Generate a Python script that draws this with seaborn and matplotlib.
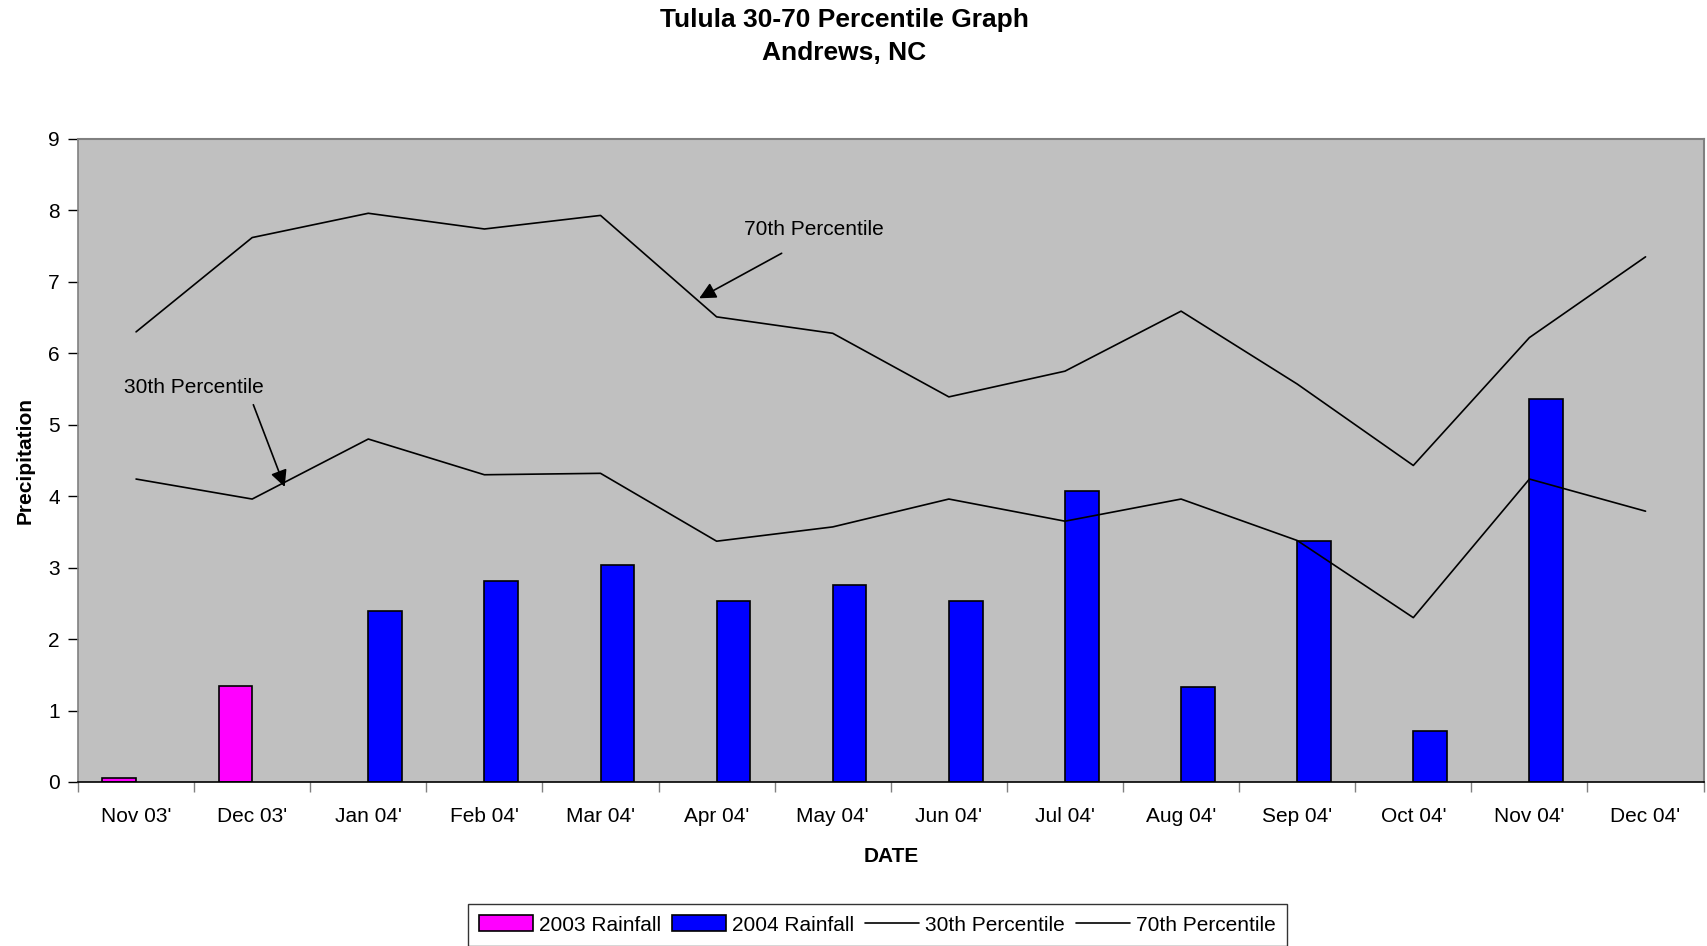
import numpy as np
import pandas as pd
import matplotlib
matplotlib.use("Agg")
import matplotlib.pyplot as plt
import seaborn as sns

# Monthly categories
months = ["Nov 03'", "Dec 03'", "Jan 04'", "Feb 04'", "Mar 04'", "Apr 04'", "May 04'",
          "Jun 04'", "Jul 04'", "Aug 04'", "Sep 04'", "Oct 04'", "Nov 04'", "Dec 04'"]

# Observed rainfall (inches)
rain_2003_months = ["Nov 03'", "Dec 03'"]
rain_2003 = [0.05, 1.35]
rain_2004_months = ["Jan 04'", "Feb 04'", "Mar 04'", "Apr 04'", "May 04'", "Jun 04'",
                    "Jul 04'", "Aug 04'", "Sep 04'", "Oct 04'", "Nov 04'"]
rain_2004 = [2.39, 2.81, 3.04, 2.53, 2.76, 2.53, 4.07, 1.33, 3.37, 0.71, 5.36]

# Percentile envelopes
pct30 = [4.24, 3.96, 4.80, 4.30, 4.32, 3.37, 3.57, 3.96, 3.65, 3.96, 3.38, 2.30, 4.24, 3.79]
pct70 = [6.30, 7.62, 7.96, 7.74, 7.93, 6.51, 6.28, 5.39, 5.75, 6.59, 5.57, 4.43, 6.22, 7.35]

sns.set_style("white")
plt.rcParams["font.family"] = ["Liberation Sans", "DejaVu Sans"]
plt.rcParams["text.color"] = "black"
plt.rcParams["axes.labelcolor"] = "black"
plt.rcParams["xtick.color"] = "black"
plt.rcParams["ytick.color"] = "black"

FS = 15

rain = pd.DataFrame({
    "month": rain_2003_months + rain_2004_months,
    "series": ["2003 Rainfall"] * len(rain_2003) + ["2004 Rainfall"] * len(rain_2004),
    "value": rain_2003 + rain_2004,
})

fig = plt.figure(figsize=(17.07, 9.46), dpi=100)
ax = fig.add_axes([0.0457, 0.1734, 0.9523, 0.6797])
ax.set_facecolor("#C0C0C0")

sns.barplot(data=rain, x="month", y="value", hue="series", order=months,
            hue_order=["2003 Rainfall", "2004 Rainfall"],
            palette={"2003 Rainfall": "#FF00FF", "2004 Rainfall": "#0000FF"},
            width=0.58, dodge=True, edgecolor="black", linewidth=1.2, saturation=1,
            errorbar=None, ax=ax)

xpos = np.arange(len(months))
sns.lineplot(x=xpos, y=pct30, color="black", linewidth=1.2, label="30th Percentile", ax=ax)
sns.lineplot(x=xpos, y=pct70, color="black", linewidth=1.2, label="70th Percentile", ax=ax)

ax.set_xlim(-0.5, len(months) - 0.5)
ax.set_ylim(0, 9)
ax.set_yticks(range(0, 10))
ax.set_xticks(xpos)
ax.set_xticklabels(months)
ax.set_xticks(np.arange(-0.5, len(months) + 0.5, 1.0), minor=True)
ax.tick_params(axis="x", which="major", length=0, pad=18, labelsize=FS)
ax.tick_params(axis="x", which="minor", length=7, width=1, color="#808080", direction="out", bottom=True)
ax.tick_params(axis="y", length=7, width=1, direction="out", left=True, labelsize=FS, pad=6)

for side in ["top", "right"]:
    ax.spines[side].set_color("#808080")
    ax.spines[side].set_linewidth(1.5)
for side in ["left", "bottom"]:
    ax.spines[side].set_color("black")
    ax.spines[side].set_linewidth(1.2)
ax.spines["left"].set_color("#808080")

ax.set_xlabel("DATE", fontsize=FS, fontweight="bold", labelpad=15)
ax.set_ylabel("Precipitation", fontsize=FS, fontweight="bold", labelpad=10)

fig.text(0.4945, 0.979, "Tulula 30-70 Percentile Graph", fontsize=19, fontweight="bold",
         ha="center", va="center")
fig.text(0.4945, 0.9436, "Andrews, NC", fontsize=19, fontweight="bold",
         ha="center", va="center")

arrow = dict(arrowstyle="-|>", color="black", lw=1.2, mutation_scale=25, shrinkA=0, shrinkB=0)
ax.annotate("", xy=(4.85, 6.77), xytext=(5.56, 7.40), arrowprops=arrow)
ax.text(5.84, 7.73, "70th Percentile", fontsize=FS, ha="center", va="center")
ax.annotate("", xy=(1.28, 4.13), xytext=(1.01, 5.28), arrowprops=arrow)
ax.text(0.50, 5.52, "30th Percentile", fontsize=FS, ha="center", va="center")

handles, labels = ax.get_legend_handles_labels()
ax.get_legend().remove()
leg = fig.legend(handles, labels, loc="lower center", bbox_to_anchor=(0.514, -0.011), ncol=4,
                 fontsize=FS, frameon=True, fancybox=False, edgecolor="black",
                 handlelength=2.6, handleheight=0.8, handletextpad=0.3, columnspacing=0.5,
                 borderpad=0.55)
leg.get_frame().set_linewidth(1.0)

fig.savefig("out.png", dpi=100, facecolor="white")
